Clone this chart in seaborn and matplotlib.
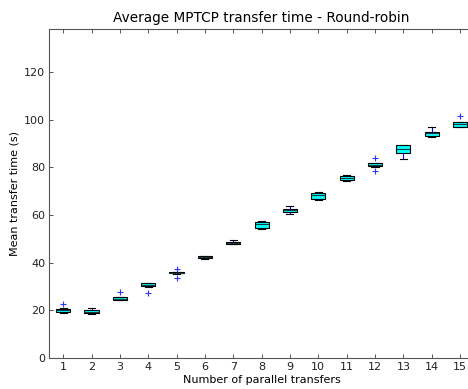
import numpy as np
import pandas as pd
import matplotlib
matplotlib.use("Agg")
import matplotlib.pyplot as plt
import seaborn as sns

# Number of parallel transfers (x categories)
transfers = list(range(1, 16))

# Per-configuration box summaries of the mean transfer time (s)
whisker_low = [18.9, 18.3, 24.3, 29.9, 35.4, 41.7, 47.7, 54.0, 60.6, 66.2, 74.3, 80.3, 83.6, 92.6, 96.8]
quartile_1  = [19.5, 18.8, 24.5, 30.0, 35.5, 41.9, 47.9, 54.6, 61.2, 66.8, 74.6, 80.6, 85.8, 93.1, 97.1]
median      = [20.0, 19.4, 24.9, 30.8, 35.8, 42.3, 48.3, 56.0, 62.0, 68.3, 75.4, 81.1, 87.7, 94.2, 98.0]
quartile_3  = [20.5, 20.0, 25.4, 31.4, 36.1, 42.7, 48.7, 57.0, 62.6, 69.3, 76.2, 81.7, 89.3, 95.0, 98.8]
whisker_high = [20.8, 20.8, 25.6, 31.6, 36.2, 42.8, 49.4, 57.5, 63.6, 69.7, 76.7, 82.0, 89.4, 96.8, 99.0]
outliers = [[22.6], [], [27.7], [27.3], [33.5, 37.3], [], [], [], [], [], [],
            [78.4, 83.9], [], [], [101.7]]

# Long-form table: each run's samples laid out so the quartiles land on the summaries
rows = []
for n, lo, q1, md, q3, hi, fl in zip(transfers, whisker_low, quartile_1, median,
                                     quartile_3, whisker_high, outliers):
    samples = [lo, q1, q1, q1, md, md, q3, q3, q3, hi] + list(fl)
    rows += [(n, v) for v in samples]
df = pd.DataFrame(rows, columns=["transfers", "time"])

fig = plt.figure(figsize=(468 / 80, 389 / 80), dpi=80)
ax = fig.add_axes([49 / 468, 31 / 389, 425.2 / 468, 329 / 389])

sns.boxplot(
    data=df, x="transfers", y="time", order=transfers, ax=ax,
    width=0.5, color="cyan", saturation=1, linewidth=1.0, linecolor="black",
    whiskerprops=dict(color="blue", linestyle="-"),
    capprops=dict(color="black"),
    medianprops=dict(color="#1a3a3a", linewidth=1.0),
    flierprops=dict(marker="+", color="#3333ff", markeredgecolor="#3333ff",
                    markersize=6, markeredgewidth=1.0),
)

ax.set_xlim(-0.5, 14.5)
ax.set_ylim(0, 138)
ax.set_yticks([0, 20, 40, 60, 80, 100, 120])
ax.set_xticks(range(15))
ax.set_xticklabels([str(t) for t in transfers])

ax.set_title("Average MPTCP transfer time - Round-robin", fontsize=12.3)
ax.set_xlabel("Number of parallel transfers", fontsize=10, labelpad=3)
ax.set_ylabel("Mean transfer time (s)", fontsize=10)
ax.tick_params(direction="in", top=True, right=False, length=4, labelsize=10,
               color="#444444", labelcolor="#222222")
ax.spines["right"].set_visible(False)
for s in ax.spines.values():
    s.set_color("#555555")
    s.set_linewidth(1.0)

fig.savefig("out.png", dpi=80)
